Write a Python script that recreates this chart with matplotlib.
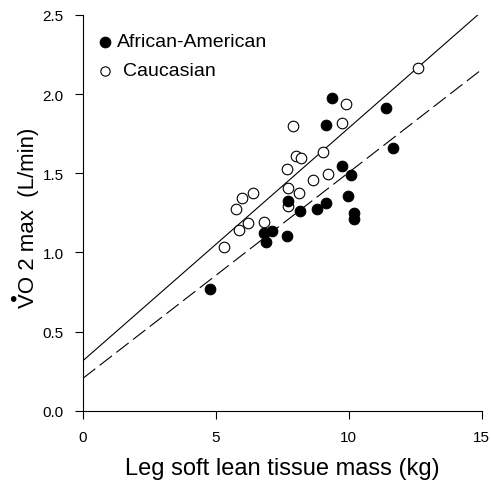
import matplotlib.pyplot as plt
import numpy as np

plt.rcParams['font.family'] = ['Liberation Sans', 'DejaVu Sans']

# African-American (filled)
aa_mass = [9.38, 11.41, 9.13, 11.68, 9.74, 10.09, 9.98, 7.73, 9.13, 8.80,
           8.15, 10.19, 10.19, 7.12, 6.82, 6.89, 7.66, 4.78]
aa_vo2 = [1.977, 1.915, 1.807, 1.657, 1.547, 1.488, 1.355, 1.323, 1.315, 1.274,
          1.262, 1.249, 1.213, 1.135, 1.120, 1.067, 1.105, 0.767]

# Caucasian (open)
ca_mass = [12.59, 9.88, 9.73, 7.90, 9.04, 8.02, 8.22, 7.67, 9.20, 8.64,
           7.73, 8.14, 6.41, 5.98, 5.75, 7.73, 6.19, 5.88, 6.82, 5.31]
ca_vo2 = [2.167, 1.938, 1.818, 1.799, 1.636, 1.607, 1.596, 1.528, 1.496, 1.456,
          1.407, 1.376, 1.376, 1.344, 1.277, 1.296, 1.183, 1.141, 1.194, 1.035]

# regression lines (intercept, slope)
ca_fit = (0.316, 0.147)
aa_fit = (0.205, 0.130)

xticks = [0, 5, 10, 15]
yticks = [0.0, 0.5, 1.0, 1.5, 2.0, 2.5]

fig = plt.figure(figsize=(4.91, 4.81), dpi=100)
ax = fig.add_axes([0.169, 0.144, 0.812, 0.823])

xs = np.array([0, 14.9])
ax.plot(xs, ca_fit[0] + ca_fit[1] * xs, color='black', lw=0.8)
dl, = ax.plot(xs, aa_fit[0] + aa_fit[1] * xs, color='black', lw=0.8)
dl.set_dashes([14, 5])

ax.scatter(ca_mass, ca_vo2, s=58, facecolors='white', edgecolors='black',
           linewidths=0.8, zorder=3)
ax.scatter(aa_mass, aa_vo2, s=58, facecolors='black', edgecolors='black',
           linewidths=0.8, zorder=4)

ax.set_xlim(0, 15)
ax.set_ylim(0, 2.5)
ax.set_xticks(xticks)
ax.set_xticklabels([str(t) for t in xticks])
ax.set_yticks(yticks)
ax.set_yticklabels([f'{t:.1f}' for t in yticks])
ax.spines['top'].set_visible(False)
ax.spines['right'].set_visible(False)
ax.spines['left'].set_linewidth(0.8)
ax.spines['bottom'].set_linewidth(0.8)
ax.tick_params(direction='out', length=6, width=0.8, labelsize=11, pad=8)

ax.set_xlabel('Leg soft lean tissue mass (kg)', fontsize=17, labelpad=9)

# y label: V with dot above, drawn rotated
fig.text(29 / 491, 1 - 308 / 481, 'VO 2 max  (L/min)', fontsize=16, rotation=90,
         ha='center', va='bottom')
fig.text(13 / 491, 1 - 298 / 481, '\u2022', fontsize=15, ha='center',
         va='center_baseline')

# legend
ax.scatter([0.83], [2.33], s=58, facecolors='black', edgecolors='black', linewidths=0.8)
ax.scatter([0.83], [2.146], s=45, facecolors='white', edgecolors='black', linewidths=0.8)
ax.text(1.28, 2.33, 'African-American', fontsize=14, va='center')
ax.text(1.5, 2.146, 'Caucasian', fontsize=14, va='center')

fig.savefig('out.png', dpi=100)
